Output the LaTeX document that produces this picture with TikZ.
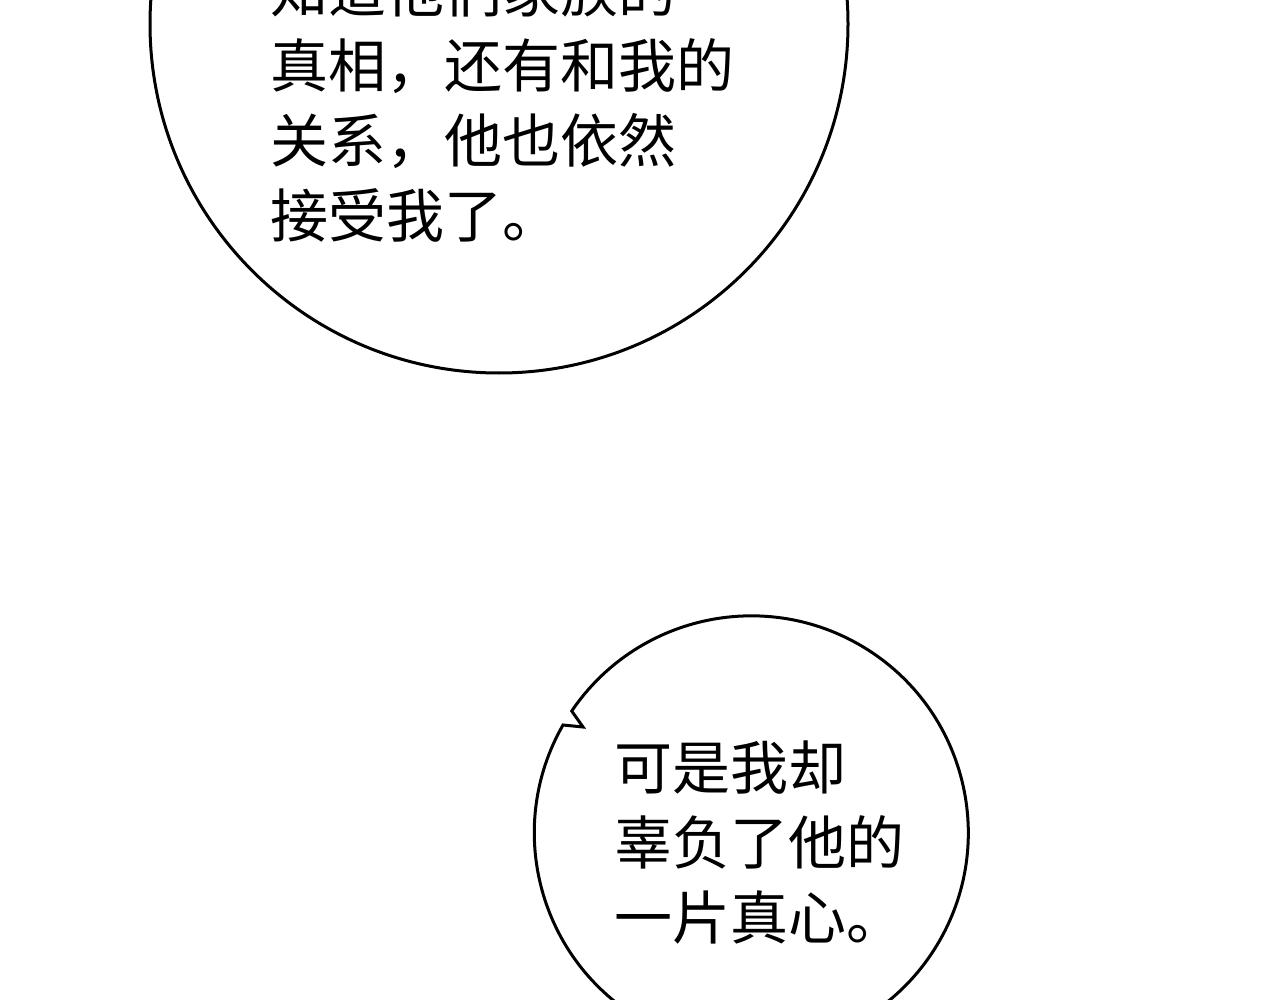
\documentclass[tikz,border=0pt]{standalone}
\usepackage{fontspec}
\newfontfamily\cjk{Noto Sans CJK SC}
\begin{document}
\begin{tikzpicture}[x=1pt,y=-1pt,
  bubble/.style={draw=black,line width=3pt},
  speech/.style={align=left,inner sep=0pt,anchor=west,text=black}]
\useasboundingbox[fill=white] (0,0) rectangle (1280,1000);
\begin{scope}
\clip (0,0) rectangle (1280,1000);
\draw[bubble] (499,24) circle[radius=349];
\node[speech,font=\cjk\fontsize{58}{75}\selectfont] (t1) at (270,102.5)
  {知道他们家族的\\真相，还有和我的\\关系，他也依然\\接受我了。};
\coordinate (n1) at (571,710);
\coordinate (n2) at (583,727);
\coordinate (n3) at (563,725);
\draw[bubble,line join=miter] (n1) -- (n2) -- (n3) arc[start angle=209.8,end angle=-145.7,radius=217];
\node[speech,font=\cjk\fontsize{58}{75}\selectfont] (t2) at (614,843)
  {可是我却\\辜负了他的\\一片真心。};
\end{scope}
\end{tikzpicture}
\end{document}
